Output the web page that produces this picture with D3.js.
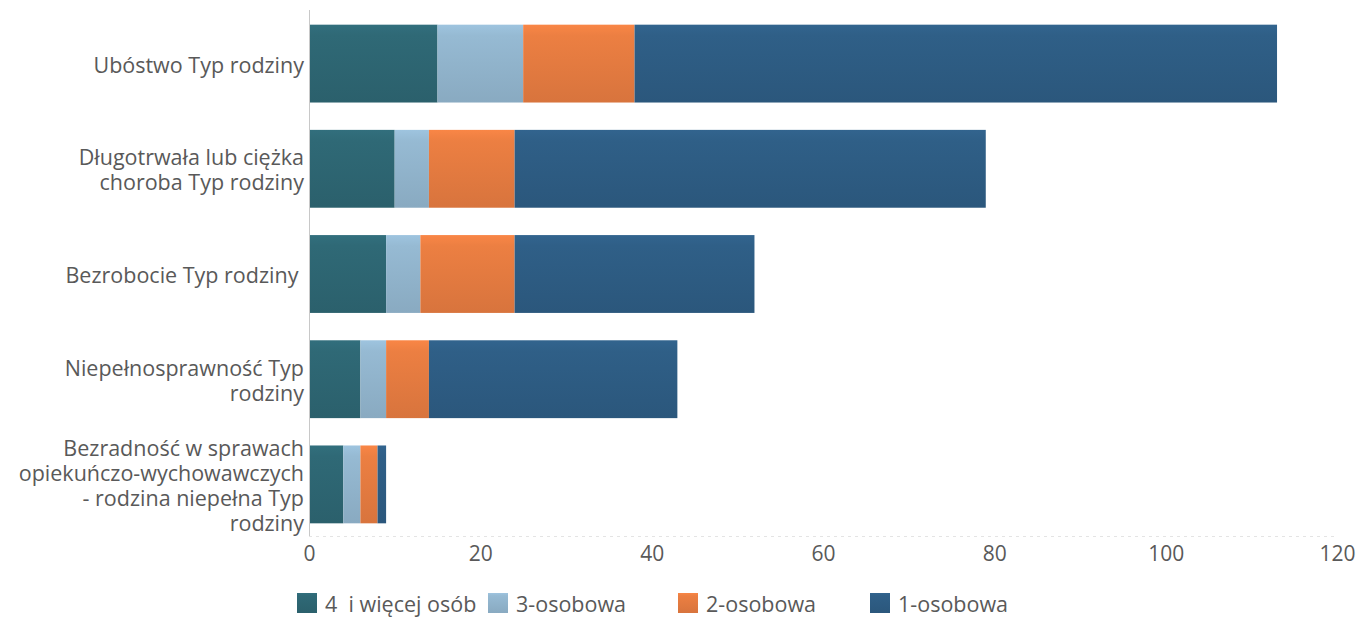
<!DOCTYPE html>
<html><head><meta charset="utf-8">
<script src="https://cdn.jsdelivr.net/npm/d3@7"></script>
<style>body{margin:0;background:#fff}svg{display:block}text{font-family:"Open Sans",sans-serif}</style>
</head><body><svg id="c" width="1359" height="619"></svg>
<script>
const categories = [
  ["Ubóstwo Typ rodziny"],
  ["Długotrwała lub ciężka", "choroba Typ rodziny"],
  ["Bezrobocie Typ rodziny\u00a0"],
  ["Niepełnosprawność Typ", "rodziny"],
  ["Bezradność w sprawach", "opiekuńczo-wychowawczych", "- rodzina niepełna Typ", "rodziny"]
];
const seriesNames = ["4  i więcej osób", "3-osobowa", "2-osobowa", "1-osobowa"];
const s4plus = [15, 10, 9, 6, 4];
const s3 = [10, 4, 4, 3, 2];
const s2 = [13, 10, 11, 5, 2];
const s1 = [75, 55, 28, 29, 1];
const xTicks = [0, 20, 40, 60, 80, 100, 120];
const colors = ["#2d6470", "#8eb0c8", "#e0783f", "#2d5a80"];

const svg = d3.select("#c");
const x = d3.scaleLinear().domain([0, 120]).range([309, 1337]);
const y = d3.scaleBand().domain(d3.range(categories.length)).range([11, 537]).paddingInner(0.26).paddingOuter(0.13);

const defs = svg.append("defs");
colors.forEach((c, i) => {
  const g = defs.append("linearGradient").attr("id", "g" + i).attr("x1", 0).attr("x2", 0).attr("y1", 0).attr("y2", 1);
  const base = d3.color(c);
  g.append("stop").attr("offset", "0%").attr("stop-color", base.brighter(0.3));
  g.append("stop").attr("offset", "14%").attr("stop-color", base.brighter(0.15));
  g.append("stop").attr("offset", "100%").attr("stop-color", base.darker(0.1));
});

const rows = categories.map((c, i) => ({i, vals: [s4plus[i], s3[i], s2[i], s1[i]]}));
const stack = d3.stack().keys([0,1,2,3]).value((d, k) => d.vals[k]);
const layers = stack(rows);

svg.selectAll("g.layer").data(layers).join("g").attr("class", "layer")
  .attr("fill", (d, i) => "url(#g" + i + ")")
  .selectAll("rect").data(d => d).join("rect")
  .attr("x", d => x(d[0])).attr("width", d => x(d[1]) - x(d[0]))
  .attr("y", (d) => y(d.data.i)).attr("height", y.bandwidth());

// axis lines
svg.append("line").attr("x1", 309.5).attr("x2", 309.5).attr("y1", 10).attr("y2", 537).attr("stroke", "#c8c8c8");
svg.append("line").attr("x1", 309).attr("x2", 1337).attr("y1", 536.5).attr("y2", 536.5).attr("stroke", "#e4e4e4").attr("stroke-dasharray", "3,4");

// category labels
const lh = 25;
categories.forEach((lines, i) => {
  const cy = y(i) + y.bandwidth() / 2;
  const t = svg.append("text").attr("text-anchor", "end").attr("fill", "#595959").attr("font-size", 21.5);
  lines.forEach((l, j) => {
    t.append("tspan").attr("x", 304).attr("y", cy + (j - (lines.length - 1) / 2) * lh + 9).text(l);
  });
});

// x axis labels
const xa = svg.append("g").attr("transform", "translate(0,537)").call(d3.axisBottom(x).tickValues(xTicks).tickSize(0).tickPadding(9));
xa.select(".domain").remove();
xa.selectAll("text").attr("font-size", 21).attr("fill", "#595959").attr("font-family", "Open Sans");

// legend
const legX = [297, 488, 678, 870];
seriesNames.forEach((n, i) => {
  svg.append("rect").attr("x", legX[i]).attr("y", 593).attr("width", 20).attr("height", 20).attr("fill", "url(#g" + i + ")");
  svg.append("text").attr("x", legX[i] + 28).attr("y", 612).attr("font-size", 21.5).attr("fill", "#595959").attr("xml:space", "preserve").text(n);
});
</script></body></html>
